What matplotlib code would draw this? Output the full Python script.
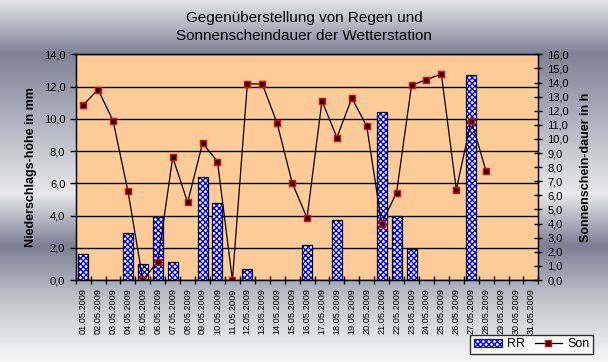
import numpy as np
import matplotlib
matplotlib.use("Agg")
import matplotlib.pyplot as plt
from matplotlib.patches import Patch
from matplotlib.lines import Line2D

plt.rcParams['font.family'] = ['Liberation Sans', 'DejaVu Sans']

days = ["%02d.05.2009" % d for d in range(1, 32)]
rain = [1.6, 0, 0, 2.9, 1.0, 3.9, 1.1, 0, 6.4, 4.8, 0, 0.7, 0, 0, 0, 2.2,
        0, 3.7, 0, 0, 10.4, 4.0, 1.9, 0, 0, 0, 12.7, 0, 0, 0, 0]
sun = [12.4, 13.5, 11.3, 6.3, 0.0, 1.3, 8.7, 5.5, 9.7, 8.4, 0.0, 13.9, 13.9,
       11.1, 6.9, 4.4, 12.7, 10.1, 12.9, 10.9, 4.0, 6.2, 13.8, 14.2, 14.6,
       6.4, 11.3, 7.7, np.nan, np.nan, np.nan]


def main():
    fig = plt.figure(figsize=(6.08, 3.62), dpi=100)

    # chrome style background gradient
    stops = [0, 53, 120, 193, 245, 300, 362]
    cols = np.array([[228, 228, 230], [125, 130, 150], [175, 178, 190],
                     [233, 233, 235], [122, 127, 148], [195, 197, 205],
                     [248, 248, 248]]) / 255.0
    yy = np.arange(362)
    grad = np.stack([np.interp(yy, stops, cols[:, k]) for k in range(3)], axis=-1)
    bg = fig.add_axes([0, 0, 1, 1], zorder=-10)
    bg.imshow(grad[:, None, :], aspect='auto', extent=[0, 1, 1, 0])
    bg.axis('off')

    ax = fig.add_axes([0.1245, 0.2265, 0.761, 0.6235])
    ax.set_facecolor('#ffcc99')
    x = np.arange(len(days))
    xr = x[np.array(rain) > 0]
    hr = np.array(rain)[np.array(rain) > 0]
    ax.bar(xr, hr, width=0.67, color='white', edgecolor='#0000ff',
           hatch='xxxxxx', linewidth=0, zorder=3)
    ax.bar(xr, hr, width=0.67, fill=False, edgecolor='black',
           linewidth=0.9, zorder=4)

    ax.set_xlim(-0.5, len(days) - 0.5)
    ax.set_ylim(0, 14)
    ax.set_yticks(np.arange(0, 15, 2))
    ax.yaxis.set_major_formatter(plt.FuncFormatter(lambda v, p: ("%.1f" % v).replace('.', ',')))
    ax.grid(axis='y', color='black', linewidth=1, zorder=1)
    ax.set_axisbelow(True)
    ax.set_xticks(x)
    ax.set_xticklabels(days, rotation=90, fontsize=6.6)
    ax.set_xticks(np.arange(-0.5, len(days)), minor=True)
    ax.tick_params(axis='x', which='major', length=0, pad=6)
    ax.tick_params(axis='x', which='minor', direction='inout', length=6, width=1)
    ax.tick_params(axis='y', direction='out', length=4, width=1, labelsize=8)
    ax.set_ylabel("Niederschlags-höhe in mm", fontsize=9, fontweight='bold', labelpad=5)
    for s in ax.spines.values():
        s.set_linewidth(1)

    ax2 = ax.twinx()
    ax2.plot(x, sun, color='black', linewidth=0.9, marker='s', markersize=4,
             markerfacecolor='black', markeredgecolor='red', markeredgewidth=1)
    ax2.set_ylim(0, 16)
    ax2.set_yticks(np.arange(0, 17, 1))
    ax2.yaxis.set_major_formatter(plt.FuncFormatter(lambda v, p: ("%.1f" % v).replace('.', ',')))
    ax2.tick_params(axis='y', direction='inout', length=6, width=1, labelsize=8)
    ax2.set_ylabel("Sonnenschein-dauer in h", fontsize=9, fontweight='bold', labelpad=8)

    fig.text(0.5, 0.925, "Gegenüberstellung von Regen und\nSonnenscheindauer der Wetterstation",
             ha='center', va='center', fontsize=11, linespacing=1.35)

    handles = [Patch(facecolor='white', edgecolor='#0000ff', hatch='xxxxxx', linewidth=0.8),
               Line2D([], [], color='black', linewidth=0.9, marker='s', markersize=4,
                      markerfacecolor='black', markeredgecolor='red')]
    leg = fig.legend(handles, ["RR", "Son"], ncol=2, loc='lower right',
                     bbox_to_anchor=(593 / 608, 1 - 354 / 362), fontsize=9,
                     frameon=True, fancybox=False, borderpad=0.3,
                     handlelength=2.2, columnspacing=0.8, handletextpad=0.4,
                     borderaxespad=0)
    leg.get_frame().set_edgecolor('black')
    leg.get_frame().set_linewidth(1)

    fig.savefig("out.png", dpi=100)


main()
